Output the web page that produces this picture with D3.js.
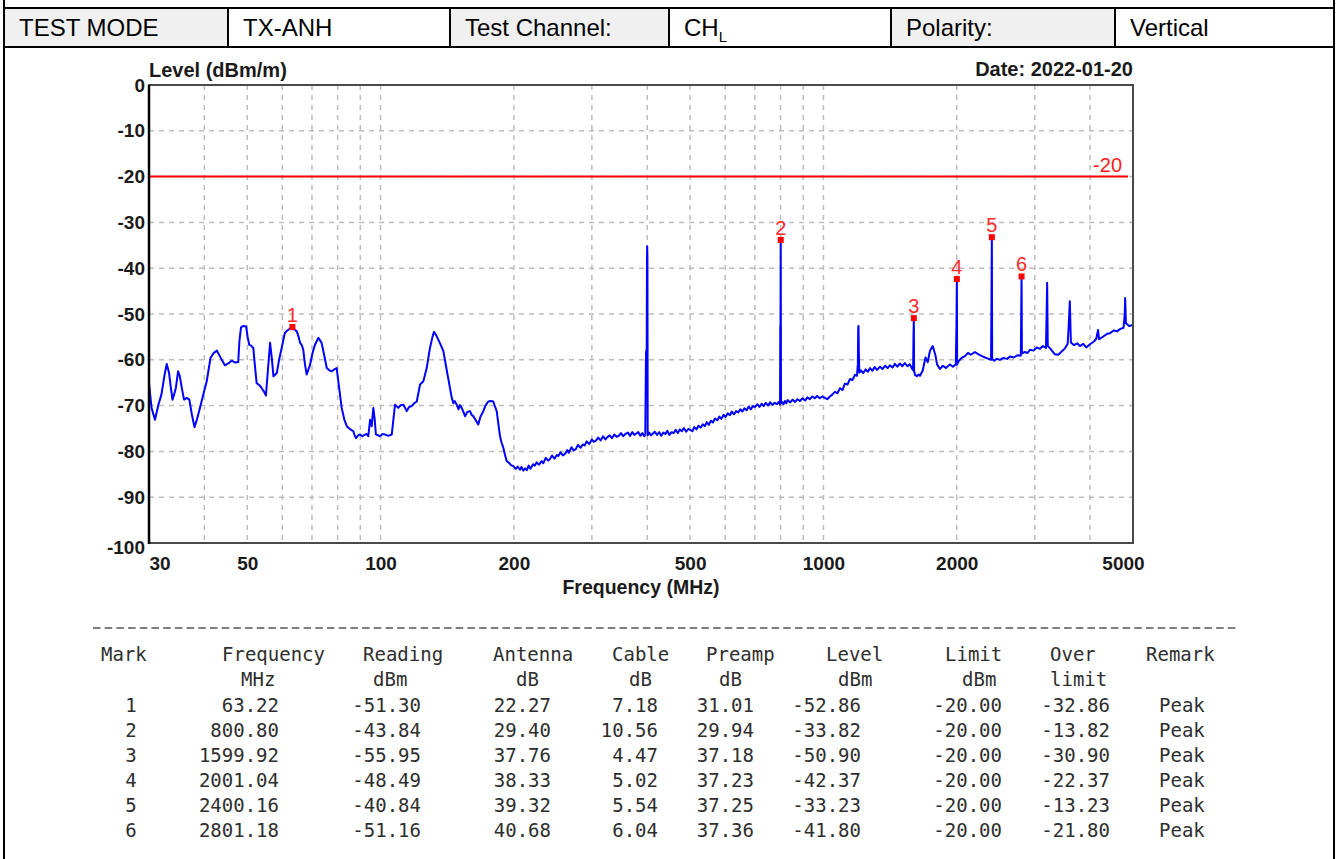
<!DOCTYPE html>
<html>
<head>
<meta charset="utf-8">
<script src="https://cdn.jsdelivr.net/npm/d3@7"></script>
<style>
  body { margin: 0; background: #fff; }
  svg { display: block; }
</style>
</head>
<body>
<svg id="page" width="1338" height="859"></svg>
<script>
/* === Radiated spurious emission sheet === */

// --- header row ---
const headerText = ["TEST MODE", "TX-ANH", "Test Channel:", "CH", "Polarity:", "Vertical"];
const headerSub = ["", "", "", "L", "", ""];

// --- chart axes ---
const xTicks = [30, 50, 100, 200, 500, 1000, 2000, 5000];
const xGrid = [40, 50, 60, 70, 80, 90, 100, 200, 300, 400, 500, 600, 700, 800, 900, 1000, 2000, 3000, 4000];
const yTicks = [0, -10, -20, -30, -40, -50, -60, -70, -80, -90, -100];
const limitLevel = -20;

const trace = [
  [30.0,-65.1],[30.4,-70.5],[30.95,-73.1],[31.5,-69.8],[32.0,-67.6],[32.5,-63.5],[32.9,-60.9],[33.3,-62.9],
  [33.6,-66],[33.9,-68.7],[34.2,-67.5],[34.5,-66.1],[34.9,-62.5],[35.2,-63.5],[35.6,-66.3],[36.0,-68.7],
  [36.5,-68.3],[37.0,-68.7],[37.5,-72],[38.0,-74.7],[38.5,-73],[39.1,-70.5],[39.8,-67.5],[40.5,-64.7],
  [41.3,-59.6],[42.0,-58.5],[42.7,-58],[43.4,-59.3],[44.5,-61.2],[45.3,-60.8],[46.1,-60.2],[47.0,-60.6],
  [47.7,-60.5],[48.0,-56],[48.4,-52.9],[49.0,-52.6],[49.7,-52.7],[50.1,-55],[50.5,-56.7],[51.0,-56.9],
  [51.6,-57.4],[52.0,-61],[52.5,-65.1],[53.2,-65.5],[53.9,-66.2],[54.5,-66.9],[55.1,-67.8],[55.7,-62],
  [56.3,-56.3],[56.8,-59.6],[57.3,-63.6],[58.3,-62.9],[59.0,-60],[59.8,-57.4],[60.8,-54.1],[61.8,-53.5],
  [63.22,-52.86],[63.9,-53.4],[64.7,-53.8],[65.3,-55],[65.8,-56.3],[66.4,-56.8],[66.9,-57.8],[67.5,-61],
  [68.1,-63.2],[69.3,-61.1],[70.2,-58.5],[71.1,-56.7],[72.4,-55.2],[73.6,-56.3],[74.6,-59],[75.6,-61.8],
  [76.6,-62.3],[77.6,-62.5],[78.6,-62.1],[79.6,-61.8],[80.6,-66],[81.7,-70.5],[82.8,-73],[83.9,-74.5],
  [85.0,-75],[85.8,-75.3],[86.8,-75.6],[87.4,-76.5],[88.0,-77.1],[89.0,-76.5],[89.9,-76.3],[91.0,-76.7],
  [92.0,-76.4],[93.0,-76.2],[93.8,-76.7],[94.7,-73.1],[95.5,-74.5],[96.3,-70.5],[97.0,-73],[97.6,-76.3],
  [99.7,-76.7],[101,-76.2],[102.3,-76.3],[104,-76.6],[106.0,-76.3],[107.8,-69.8],[109.7,-70.5],[111,-69.9],
  [112.6,-69.8],[114.6,-71.2],[116,-70.3],[117.6,-70.1],[119,-69.5],[120.7,-69.1],[122.8,-65.4],[124.9,-64.7],
  [127.1,-61.8],[129.3,-57.4],[131,-55],[132.0,-53.9],[133.5,-54.6],[135.0,-55.6],[136.8,-56.8],[138.6,-58.1],
  [141.5,-63],[144.8,-68.3],[146,-69.5],[147,-69],[148.6,-69.8],[150,-70.8],[151,-69.9],[152.5,-70.5],
  [154,-71.5],[155.1,-72.3],[157,-71.4],[159.2,-71.2],[160.5,-72],[161.9,-72.3],[164,-73.2],[166.2,-74.1],
  [168,-72.5],[170.6,-71.2],[172.5,-70],[175.1,-69.1],[177.5,-69],[179.7,-69.1],[181,-70],[182.9,-71.2],
  [184.5,-74],[186.1,-76.7],[187.5,-78],[189.3,-79.2],[191,-80.8],[192.6,-82.1],[195,-82.5],[197,-83],
  [199.4,-83.2],[202,-83.8],[204,-83.3],[206.4,-84],
  [208,-83.4],[210,-84.2],[212,-83.7],[214,-84.1],[216,-83.1],[218,-83.8],[221,-82.8],[223,-83.1],
  [225,-82.4],[228,-82.9],[231,-82.1],[233,-82.6],[236,-81.4],[239,-82],[241,-81.7],[244,-80.9],
  [247,-81.6],[250,-80.8],[252,-81],[255,-80.2],[258,-80.9],[261,-80.5],[264,-79.7],[266,-80.3],
  [270,-79.1],[273,-79.8],[276,-79.5],[279,-78.6],[283,-79.2],[286,-78.5],[289,-78.7],[292,-77.8],
  [296,-78.4],[300,-77.4],[303,-77.9],[306,-77.7],[310,-77],[314,-77.6],[318,-76.7],[322,-77.4],
  [325,-76.9],[329,-76.5],[333,-77.1],[337,-76.3],[341,-76.8],[345,-76.6],[349,-76],[353,-76.7],
  [357,-76.2],[362,-75.9],[366,-76.6],[370,-75.8],[374,-76.4],[378,-76.1],[382,-75.8],[386,-76.6],
  [390,-76],[394,-76.7],[396,-76.2],[397.5,-58.5],[399,-57.5],[399.5,-38],
  [400,-35.2],[400.5,-38],[401,-76.5],[404,-75.9],[408,-76.5],[412,-76.1],[416,-75.7],[421,-76.4],
  [426,-75.8],[430,-76.6],[435,-75.9],[440,-76.2],[444,-75.5],[449,-76.4],[454,-75.8],[459,-76],
  [464,-75.3],[469,-76],[474,-75.2],[479,-75.6],[484,-74.9],[490,-75.7],[495,-75.1],[500,-75.3],
  [506,-75.6],[511,-74.7],[517,-75.2],[522,-74.4],[528,-74.8],[534,-74.1],[540,-74.5],[545,-73.6],
  [551,-74.2],[557,-73.3],[563,-73.7],[569,-72.8],[576,-73.2],[582,-72.4],[588,-72.9],[595,-72],
  [601,-72.5],[608,-71.7],[615,-72.1],[621,-71.3],[628,-71.9],[635,-71.2],[642,-71.5],[649,-70.8],
  [656,-71.3],[663,-70.6],[671,-71],[678,-70.2],[686,-70.8],[693,-70.1],[701,-70.3],[709,-69.7],
  [717,-70.3],[725,-69.6],[733,-70.1],[741,-69.4],[750,-70],[758,-69.3],[767,-69.8],[776,-69.4],
  [785,-69.7],[792,-69.2],[798,-69.8],[799,-52.6],[800,-52.6],[800.8,-33.82],[802,-69.5],[806,-69.2],
  [812,-69.7],[818,-69],[824,-69.5],[830,-68.8],[841,-69.3],[852,-68.7],[863,-69.2],[874,-68.6],
  [885,-69],[897,-68.4],[909,-68.9],[920,-68.2],[932,-68.6],[944,-68],[956,-68.4],[968,-67.9],
  [981,-68.4],[994,-68],[1007,-68.3],[1020,-68.6],[1034,-68],[1047,-67.6],[1061,-67],[1075,-67.3],
  [1090,-66.2],[1104,-66.6],[1118,-65.2],[1133,-65.4],[1148,-64.2],[1163,-64.4],[1178,-63.3],[1190,-63.5],
  [1196,-61],[1198,-53],[1200,-52.6],[1202,-58],[1205,-62.8],[1215,-62.3],[1230,-62.9],[1245,-62.1],
  [1260,-62.6],[1274,-61.8],[1290,-62.4],[1305,-61.6],[1322,-62.2],[1342,-61.5],[1360,-62],[1378,-61.3],
  [1396,-61.8],[1413,-61.2],[1432,-61.7],[1450,-60.9],[1469,-61.5],[1488,-60.8],[1507,-61.4],[1527,-60.7],
  [1547,-61.4],[1567,-61],[1585,-61.9],[1594,-62.3],[1597,-55],[1599.92,-50.9],[1602,-62.4],[1610,-63.3],
  [1625,-63.6],[1640,-63.2],[1652,-63.5],[1675,-62.4],[1700,-59.5],[1720,-60.5],[1740,-58],[1765,-57],
  [1790,-59],[1805,-61],[1833,-62],[1860,-61.3],[1890,-61.8],[1930,-61],[1960,-61.5],[1990,-61],
  [1997,-52.4],[2001.04,-42.37],[2004,-61],[2020,-60.3],[2050,-59.6],[2087,-59.2],[2120,-58.5],[2150,-58.9],
  [2198,-58.3],[2240,-58.8],[2280,-59.2],[2316,-59.5],[2360,-59.8],[2390,-60],[2396,-46.3],[2400.16,-33.23],
  [2404,-59.8],[2430,-60.2],[2460,-59.8],[2503,-60],[2550,-59.6],[2600,-59.8],[2637,-59.3],[2690,-59.5],
  [2740,-59],[2790,-59.1],[2796,-50.6],[2801.18,-41.8],[2806,-58.6],[2850,-58.3],[2890,-58.5],[2926,-57.8],
  [2980,-58],[3030,-57.3],[3082,-57.6],[3130,-57],[3180,-57.4],[3190,-50.6],[3200,-43.2],[3210,-57],
  [3250,-57.5],[3300,-58.3],[3333,-58.8],[3390,-58.9],[3450,-58.2],[3510,-57.5],[3560,-56.5],[3580,-52.4],
  [3600,-47.2],[3620,-56.2],[3680,-56.8],[3740,-56.4],[3795,-57],[3860,-56.5],[3920,-57.3],[3998,-56.6],
  [4080,-56],[4130,-55.4],[4170,-53.5],[4190,-55.5],[4211,-55.4],[4300,-54.8],[4380,-54.3],[4435,-54.2],
  [4520,-53.6],[4600,-53.8],[4671,-53.3],[4760,-53],[4790,-50],[4800,-46.5],[4820,-52],[4900,-52.6],
  [5000,-52.4]
];

// --- marker table ---
const markNo = [1, 2, 3, 4, 5, 6];
const markFreq = [63.22, 800.80, 1599.92, 2001.04, 2400.16, 2801.18];
const reading = [-51.30, -43.84, -55.95, -48.49, -40.84, -51.16];
const antenna = [22.27, 29.40, 37.76, 38.33, 39.32, 40.68];
const cable = [7.18, 10.56, 4.47, 5.02, 5.54, 6.04];
const preamp = [31.01, 29.94, 37.18, 37.23, 37.25, 37.36];
const markLevel = [-52.86, -33.82, -50.90, -42.37, -33.23, -41.80];
const limit = [-20.00, -20.00, -20.00, -20.00, -20.00, -20.00];
const overLimit = [-32.86, -13.82, -30.90, -22.37, -13.23, -21.80];
const remark = ["Peak", "Peak", "Peak", "Peak", "Peak", "Peak"];

const tableHeads = ["Mark", "Frequency", "Reading", "Antenna", "Cable", "Preamp", "Level", "Limit", "Over", "Remark"];
const tableUnits = ["", "MHz", "dBm", "dB", "dB", "dB", "dBm", "dBm", "limit", ""];

const SANS = "'Liberation Sans', Arial, sans-serif";
const MONO = "'DejaVu Sans Mono', monospace";

function draw() {
  const svg = d3.select("#page");

  // outer frame
  svg.append("line").attr("x1", 4).attr("x2", 4).attr("y1", 0).attr("y2", 859)
    .attr("stroke", "#000").attr("stroke-width", 2);
  svg.append("line").attr("x1", 1334).attr("x2", 1334).attr("y1", 0).attr("y2", 859)
    .attr("stroke", "#000").attr("stroke-width", 2);

  // --- header cells ---
  const edges = [4, 228, 450, 669, 891, 1115, 1334];
  const head = svg.append("g");
  headerText.forEach((t, i) => {
    head.append("rect")
      .attr("x", edges[i]).attr("y", 8)
      .attr("width", edges[i + 1] - edges[i]).attr("height", 39)
      .attr("fill", i % 2 === 0 ? "#f0f0f0" : "#fff")
      .attr("stroke", "#000").attr("stroke-width", 2);
    const txt = head.append("text")
      .attr("x", edges[i] + 15).attr("y", 36)
      .style("font-family", SANS).style("font-size", "24px")
      .attr("fill", "#000")
      .text(t);
    if (headerSub[i]) {
      txt.append("tspan").attr("dy", 6).style("font-size", "15px").text(headerSub[i]);
    }
  });

  // --- chart ---
  const x = d3.scaleLog().domain([30, 5000]).range([149, 1133]);
  const y = d3.scaleLinear().domain([-100, 0]).range([543, 85]);
  const [x0, x1] = x.range();
  const [y0, y1] = y.range();

  const chart = svg.append("g");

  // grid
  chart.append("g").selectAll("line")
    .data(xGrid)
    .join("line")
      .attr("x1", d => x(d)).attr("x2", d => x(d))
      .attr("y1", y1).attr("y2", y0)
      .attr("stroke", "#bdbdbd").attr("stroke-width", 1.5)
      .attr("stroke-dasharray", "5,5");
  chart.append("g").selectAll("line")
    .data(yTicks.filter(v => v !== 0 && v !== -100))
    .join("line")
      .attr("x1", x0).attr("x2", x1)
      .attr("y1", d => y(d)).attr("y2", d => y(d))
      .attr("stroke", "#bdbdbd").attr("stroke-width", 1.5)
      .attr("stroke-dasharray", "5,5");

  // limit line
  chart.append("line")
    .attr("x1", x0).attr("x2", x1 - 5)
    .attr("y1", y(limitLevel)).attr("y2", y(limitLevel))
    .attr("stroke", "#ff0000").attr("stroke-width", 2);
  chart.append("text")
    .attr("x", x1 - 11).attr("y", y(limitLevel) - 5)
    .attr("text-anchor", "end")
    .style("font-family", SANS).style("font-size", "20px")
    .attr("fill", "#ff1a1a")
    .text(String(limitLevel));

  // trace
  svg.append("clipPath").attr("id", "plot-clip")
    .append("rect").attr("x", x0).attr("y", y1).attr("width", x1 - x0).attr("height", y0 - y1);
  const line = d3.line().x(d => x(d[0])).y(d => y(d[1]));
  chart.append("path")
    .datum(trace)
    .attr("clip-path", "url(#plot-clip)")
    .attr("fill", "none")
    .attr("stroke", "#0000ff")
    .attr("stroke-width", 2)
    .attr("stroke-linejoin", "round")
    .attr("d", line);

  // markers
  const marks = markNo.map((n, i) => ({ n, f: markFreq[i], v: markLevel[i] }));
  chart.append("g").selectAll("rect")
    .data(marks)
    .join("rect")
      .attr("x", d => x(d.f) - 3).attr("y", d => y(d.v) - 3)
      .attr("width", 6).attr("height", 6)
      .attr("fill", "#ff0000");
  chart.append("g").selectAll("text")
    .data(marks)
    .join("text")
      .attr("x", d => x(d.f)).attr("y", d => y(d.v) - 5)
      .attr("text-anchor", "middle")
      .style("font-family", SANS).style("font-size", "20px")
      .attr("fill", "#ff2a2a")
      .text(d => d.n);

  // frame
  chart.append("rect")
    .attr("x", x0).attr("y", y1).attr("width", x1 - x0).attr("height", y0 - y1)
    .attr("fill", "none").attr("stroke", "#4a4a4a").attr("stroke-width", 2);
  chart.append("line")
    .attr("x1", x0).attr("x2", x0).attr("y1", y1).attr("y2", y0 + 1)
    .attr("stroke", "#000").attr("stroke-width", 2.5);

  // axes labels
  const yAxis = chart.append("g")
    .attr("transform", `translate(${x0},0)`)
    .call(d3.axisLeft(y).tickValues(yTicks).tickSize(0).tickPadding(4).tickFormat(d => String(d)));
  yAxis.select(".domain").remove();
  yAxis.selectAll("text")
    .style("font-family", SANS).style("font-size", "19px").style("font-weight", "bold")
    .attr("fill", "#1a1a1a");
  yAxis.selectAll("text").filter(d => d === -100).attr("dy", "0.55em");

  const xAxis = chart.append("g")
    .attr("transform", `translate(0,${y0})`)
    .call(d3.axisBottom(x).tickValues(xTicks).tickSize(0).tickPadding(14).tickFormat(d => String(d)));
  xAxis.select(".domain").remove();
  xAxis.selectAll("text")
    .style("font-family", SANS).style("font-size", "19px").style("font-weight", "bold")
    .attr("fill", "#1a1a1a");
  xAxis.selectAll("text").filter(d => d === xTicks[0]).attr("text-anchor", "start");
  xAxis.selectAll("text").filter(d => d === xTicks[xTicks.length - 1]).attr("dx", -10);

  chart.append("text")
    .attr("x", (x0 + x1) / 2).attr("y", 594)
    .attr("text-anchor", "middle")
    .style("font-family", SANS).style("font-size", "19.5px").style("font-weight", "bold")
    .attr("fill", "#1a1a1a")
    .text("Frequency (MHz)");

  chart.append("text")
    .attr("x", x0).attr("y", 77)
    .style("font-family", SANS).style("font-size", "20px").style("font-weight", "bold")
    .attr("fill", "#1a1a1a")
    .text("Level (dBm/m)");

  chart.append("text")
    .attr("x", x1).attr("y", 76)
    .attr("text-anchor", "end")
    .style("font-family", SANS).style("font-size", "20px").style("font-weight", "bold")
    .attr("fill", "#1a1a1a")
    .text("Date: 2022-01-20");

  // --- marker table ---
  const tbl = svg.append("g")
    .style("font-family", MONO).style("font-size", "19px")
    .attr("fill", "#2e2e2e");

  tbl.append("line")
    .attr("x1", 93).attr("x2", 1238).attr("y1", 628).attr("y2", 628)
    .attr("stroke", "#555").attr("stroke-width", 1.5)
    .attr("stroke-dasharray", "7.5,4.2");

  const headX = [101, 222, 363, 493, 612, 706, 826, 945, 1050, 1146];
  const unitX = [0, 241, 373, 516, 629, 719, 838, 962, 1050, 0];
  const dataX = [131, 279, 421, 551, 658, 754, 861, 1002, 1110, 1159];

  tableHeads.forEach((h, i) => {
    tbl.append("text").attr("x", headX[i]).attr("y", 661).text(h);
    if (tableUnits[i]) tbl.append("text").attr("x", unitX[i]).attr("y", 686).text(tableUnits[i]);
  });

  const cols = [markNo, markFreq, reading, antenna, cable, preamp, markLevel, limit, overLimit, remark];
  const rowY = d3.scaleLinear().domain([0, 1]).range([712, 737]);
  markNo.forEach((_, r) => {
    cols.forEach((col, c) => {
      const v = col[r];
      let anchor = "end", s = typeof v === "number" ? v.toFixed(2) : v;
      if (c === 0) { anchor = "middle"; s = String(v); }
      if (c === cols.length - 1) anchor = "start";
      tbl.append("text")
        .attr("x", dataX[c]).attr("y", rowY(r))
        .attr("text-anchor", anchor)
        .text(s);
    });
  });
}

if (document.readyState === "loading") {
  document.addEventListener("DOMContentLoaded", draw);
} else {
  draw();
}
</script>
</body>
</html>
